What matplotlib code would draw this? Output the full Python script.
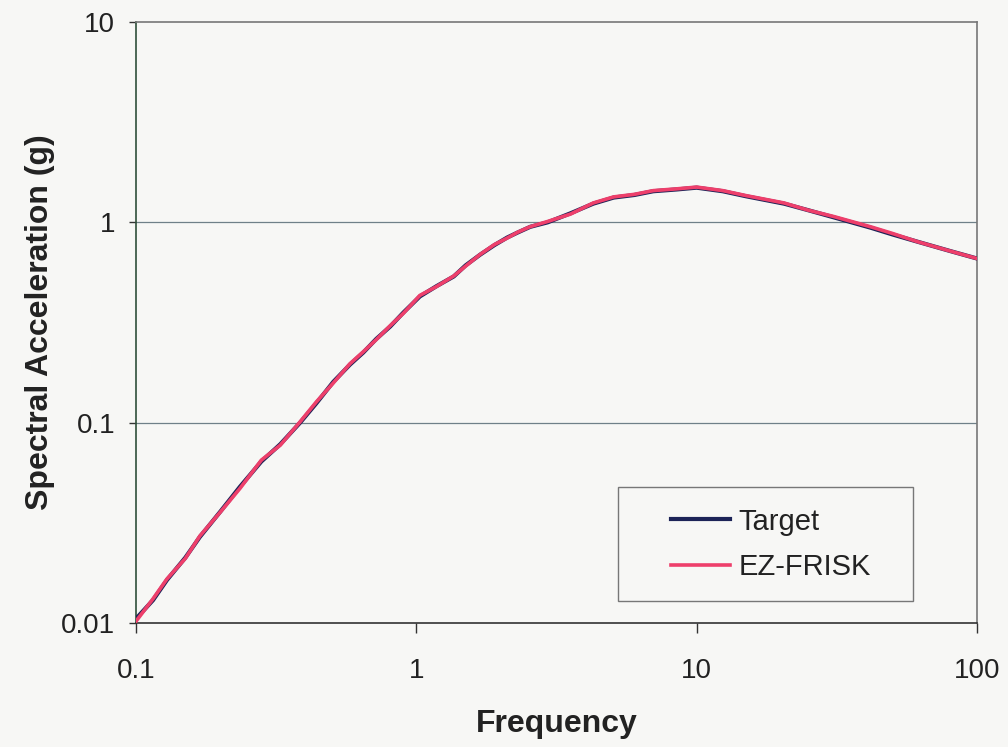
import matplotlib.pyplot as plt
from matplotlib.patches import Rectangle

# frequency (Hz) and spectral acceleration (g)
freq = [0.1, 0.115, 0.129, 0.15, 0.169, 0.2, 0.235, 0.28, 0.327, 0.385,
        0.44, 0.506, 0.58, 0.647, 0.72, 0.807, 0.9, 1.03, 1.18, 1.36,
        1.5, 1.69, 1.9, 2.11, 2.3, 2.55, 2.94, 3.55, 4.28, 5.06,
        6.0, 7.0, 8.5, 10.0, 12.4, 15.0, 20.5, 25.0, 30.8, 41.8,
        50.0, 61.5, 80.0, 100.0]

target = [0.0105, 0.0130, 0.0164, 0.0212, 0.0269, 0.0360, 0.0479, 0.0640, 0.0780, 0.100,
          0.125, 0.160, 0.195, 0.224, 0.262, 0.302, 0.355, 0.427, 0.480, 0.537,
          0.610, 0.690, 0.770, 0.840, 0.890, 0.950, 1.00, 1.11, 1.24, 1.33,
          1.37, 1.43, 1.46, 1.49, 1.43, 1.35, 1.24, 1.15, 1.06, 0.94,
          0.87, 0.80, 0.72, 0.66]

ezfrisk = [0.0102, 0.0132, 0.0166, 0.0210, 0.0272, 0.0358, 0.0470, 0.0650, 0.0772, 0.101,
           0.127, 0.158, 0.197, 0.226, 0.260, 0.305, 0.352, 0.432, 0.478, 0.540,
           0.605, 0.692, 0.775, 0.835, 0.893, 0.952, 1.01, 1.10, 1.25, 1.34,
           1.38, 1.44, 1.47, 1.50, 1.44, 1.36, 1.25, 1.15, 1.07, 0.95,
           0.88, 0.80, 0.72, 0.66]

bg = "#f7f7f5"
plt.rcParams["font.family"] = ["Liberation Sans", "DejaVu Sans"]

fig = plt.figure(figsize=(10.08, 7.47), dpi=100, facecolor=bg)
ax = fig.add_axes([0.1349, 0.166, 0.8343, 0.8045])
ax.set_facecolor(bg)

ax.plot(freq, target, color="#1c2357", lw=3.0, label="Target", zorder=3)
ax.plot(freq, ezfrisk, color="#ee3f6b", lw=2.6, label="EZ-FRISK", zorder=4)

ax.set_xscale("log")
ax.set_yscale("log")
ax.set_xlim(0.1, 100)
ax.set_ylim(0.01, 10)
ax.set_xticks([0.1, 1, 10, 100])
ax.set_xticklabels(["0.1", "1", "10", "100"])
ax.set_yticks([0.01, 0.1, 1, 10])
ax.set_yticklabels(["0.01", "0.1", "1", "10"])
ax.minorticks_off()
ax.tick_params(axis="both", labelsize=20, colors="#333333", labelcolor="#222222",
               width=1, direction="out")
ax.tick_params(axis="x", length=7, pad=18)
ax.tick_params(axis="y", length=5, pad=10)

for y in [0.1, 1]:
    ax.axhline(y, color="#6f8088", lw=0.9, zorder=1)

ax.spines["left"].set_color("#2f4f3a")
ax.spines["bottom"].set_color("#333333")
ax.spines["top"].set_color("#777777")
ax.spines["right"].set_color("#777777")
for s in ax.spines.values():
    s.set_linewidth(1.2)

ax.set_xlabel("Frequency", fontsize=23, fontweight="bold", color="#222222", labelpad=18)
ax.set_ylabel("Spectral Acceleration (g)", fontsize=23, fontweight="bold",
              color="#222222", labelpad=4)

# legend frame drawn as a box, entries placed inside it
ax.add_patch(Rectangle((0.573, 0.0366), 0.351, 0.19, transform=ax.transAxes,
                       fill=False, edgecolor="#777777", lw=1.0, zorder=5))
leg = ax.legend(loc="center", bbox_to_anchor=(0.755, 0.131), frameon=False,
                fontsize=21, handlelength=2.0, handletextpad=0.3, labelspacing=0.6)
for t in leg.get_texts():
    t.set_color("#222222")

fig.savefig("out.png", dpi=100, facecolor=bg)
